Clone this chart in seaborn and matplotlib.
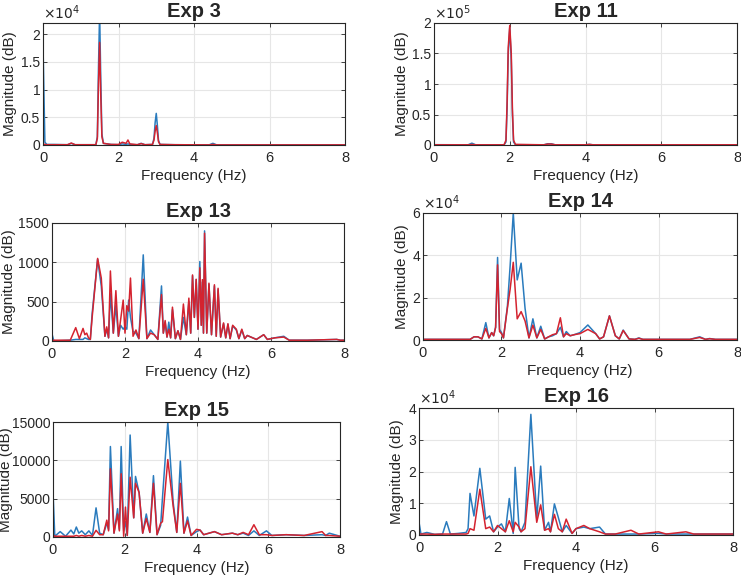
import matplotlib
matplotlib.use("Agg")
import matplotlib.pyplot as plt
import seaborn as sns
from matplotlib.ticker import FuncFormatter

# ---------------- data ----------------
titles = ["Exp 3", "Exp 11", "Exp 13", "Exp 14", "Exp 15", "Exp 16"]

f3 = [0, 0.05, 0.1, 0.3, 0.65, 0.75, 0.85, 1.4, 1.44, 1.47, 1.5, 1.53, 1.56, 1.6, 1.7, 1.8, 2.0, 2.1, 2.2, 2.25,
      2.3, 2.5, 2.6, 2.7, 2.9, 2.94, 2.97, 3.0, 3.03, 3.06, 3.1, 3.5, 4.4, 4.5, 4.6, 8.0]
blue3 = [18000, 500, 100, 100, 50, 300, 50, 50, 1500, 14000, 24000, 12000, 2000, 300, 200, 100, 50, 200, 100, 200,
         100, 50, 300, 50, 100, 1200, 4000, 5700, 3500, 800, 100, 50, 20, 300, 20, 20]
red3 = [200, 100, 50, 50, 50, 350, 50, 50, 1200, 11000, 18500, 9000, 1500, 300, 200, 100, 100, 500, 300, 900,
        200, 50, 250, 50, 100, 900, 2500, 3500, 2200, 600, 100, 50, 20, 100, 20, 20]

f11 = [0, 0.9, 1.0, 1.1, 1.85, 1.9, 1.93, 1.96, 2.0, 2.04, 2.07, 2.1, 2.15, 2.9, 3.0, 3.1, 3.2, 4.0, 4.1, 4.2, 8.0]
blue11 = [500, 300, 3000, 300, 300, 5000, 60000, 150000, 192000, 140000, 50000, 5000, 500, 300, 2000, 2000, 300,
          300, 1000, 300, 300]
red11 = [300, 300, 800, 300, 300, 8000, 70000, 160000, 196000, 150000, 60000, 8000, 1000, 300, 1500, 1500, 300,
         300, 1000, 300, 300]

f13 = [0, 0.05, 0.5, 0.65, 0.75, 0.85, 0.9, 0.95, 1.0, 1.05, 1.1, 1.25, 1.35, 1.45, 1.5, 1.55, 1.6, 1.68, 1.75,
       1.82, 1.88, 1.95, 2.0, 2.05, 2.1, 2.15, 2.22, 2.3, 2.38, 2.5, 2.6, 2.7, 2.8, 2.9, 3.0, 3.05, 3.1, 3.15,
       3.2, 3.25, 3.3, 3.38, 3.45, 3.52, 3.6, 3.68, 3.75, 3.8, 3.85, 3.9, 3.95, 4.0, 4.05, 4.09, 4.12, 4.15,
       4.18, 4.24, 4.3, 4.37, 4.45, 4.5, 4.55, 4.62, 4.7, 4.76, 4.82, 4.88, 4.95, 5.05, 5.12, 5.2, 5.28, 5.35,
       5.5, 5.6, 5.8, 5.9, 6.1, 6.35, 6.5, 7.0, 7.8, 7.9, 8.0]
red13 = [10, 10, 10, 170, 30, 160, 80, 100, 40, 20, 300, 1050, 800, 60, 180, 40, 890, 100, 640,
         60, 270, 520, 100, 450, 380, 800, 60, 140, 30, 785, 30, 100, 80, 20, 590, 100, 260, 50,
         150, 40, 430, 30, 130, 20, 470, 80, 545, 100, 840, 300, 785, 150, 930, 200, 780, 100,
         1370, 100, 735, 80, 715, 60, 670, 50, 230, 40, 220, 30, 200, 150, 30, 150, 30, 70,
         40, 20, 80, 20, 40, 50, 10, 10, 20, 10, 10]
blue13 = [90, 0, 10, 20, 20, 20, 40, 30, 20, 20, 350, 1040, 700, 60, 150, 40, 600, 100, 450,
          60, 200, 150, 180, 150, 520, 300, 120, 100, 30, 1095, 30, 140, 80, 20, 700, 100, 240, 50,
          240, 40, 400, 30, 130, 20, 300, 80, 500, 100, 830, 300, 780, 150, 1010, 200, 750, 100,
          1400, 100, 720, 80, 700, 60, 650, 50, 220, 40, 210, 30, 190, 140, 30, 140, 30, 70,
          40, 20, 80, 20, 40, 60, 10, 10, 20, 10, 10]

f14 = [0, 1.2, 1.3, 1.4, 1.5, 1.6, 1.68, 1.75, 1.8, 1.85, 1.9, 1.95, 2.0, 2.05, 2.15, 2.22, 2.3, 2.4, 2.5,
       2.6, 2.7, 2.8, 2.9, 3.0, 3.1, 3.2, 3.3, 3.4, 3.5, 3.58, 3.65, 3.75, 3.85, 4.0, 4.2, 4.4, 4.5, 4.6,
       4.75, 4.9, 5.0, 5.1, 5.25, 5.4, 5.5, 5.6, 6.2, 6.8, 7.05, 7.2, 7.3, 7.45, 8.0]
blue14 = [300, 300, 1500, 1500, 500, 8200, 1000, 3500, 2000, 6000, 39000, 5000, 3500, 1000, 15800, 35000, 60000,
          28400, 36300, 15000, 1000, 10000, 1000, 6500, 500, 1500, 2000, 3000, 6000, 1500, 4000, 2000, 2500,
          3500, 7100, 3000, 500, 1500, 11400, 2000, 500, 4700, 500, 300, 1000, 300, 300, 300, 1500, 300, 700,
          300, 300]
red14 = [300, 300, 1500, 1500, 500, 5500, 1000, 3500, 2000, 6000, 35500, 4000, 3000, 1000, 15000, 24000, 36700,
         10000, 13400, 9000, 1000, 7000, 1000, 5000, 500, 1500, 2500, 3000, 10500, 1500, 3000, 2000, 2500,
         3000, 5000, 3000, 500, 1500, 11400, 2000, 500, 4500, 500, 300, 800, 300, 300, 300, 1200, 300, 600,
         300, 300]

f15 = [0, 0.05, 0.2, 0.35, 0.5, 0.58, 0.65, 0.72, 0.8, 0.9, 1.0, 1.1, 1.2, 1.3, 1.4, 1.5, 1.55, 1.6, 1.7, 1.8,
       1.85, 1.9, 1.97, 2.02, 2.07, 2.15, 2.25, 2.3, 2.4, 2.5, 2.6, 2.7, 2.8, 2.9, 3.0, 3.05, 3.2, 3.35, 3.45,
       3.55, 3.65, 3.75, 3.85, 4.0, 4.1, 4.2, 4.5, 4.7, 5.0, 5.15, 5.3, 5.45, 5.6, 5.75, 5.95, 6.1, 6.5, 7.0,
       7.5, 7.6, 7.7, 8.0]
blue15 = [5900, 100, 700, 100, 900, 400, 1300, 500, 800, 300, 800, 200, 3800, 500, 300, 1800, 1000, 11800, 500,
          3700, 1000, 11800, 800, 2000, 200, 13300, 2500, 7900, 5800, 500, 3000, 600, 8000, 300, 1500, 5000,
          15000, 4500, 600, 9900, 500, 2600, 200, 700, 900, 300, 700, 300, 500, 300, 500, 200, 800, 200, 800,
          200, 300, 200, 300, 200, 500, 100]
red15 = [300, 100, 100, 100, 100, 100, 200, 100, 200, 100, 200, 100, 870, 300, 300, 2200, 800, 8900, 500,
         3000, 800, 8250, 100, 3900, 200, 7800, 2500, 7000, 5800, 500, 2400, 600, 7000, 300, 1800, 2000,
         10100, 4000, 600, 7000, 500, 2100, 200, 1000, 900, 300, 700, 300, 500, 300, 600, 300, 1600, 300, 300,
         200, 300, 200, 700, 200, 200, 100]

f16 = [0, 0.05, 0.2, 0.4, 0.6, 0.7, 0.8, 1.0, 1.2, 1.25, 1.3, 1.4, 1.55, 1.7, 1.8, 1.9, 2.0, 2.1, 2.2, 2.3,
       2.4, 2.45, 2.55, 2.6, 2.7, 2.85, 3.0, 3.1, 3.2, 3.3, 3.35, 3.45, 3.55, 3.65, 3.75, 3.9, 4.0, 4.2, 4.35,
       4.6, 4.75, 5.0, 5.4, 5.6, 6.1, 6.3, 6.8, 7.0, 8.0]
blue16 = [4000, 300, 800, 200, 300, 4200, 300, 500, 800, 2000, 13100, 6000, 21000, 5000, 6000, 1000, 2500,
          3500, 1000, 11500, 500, 21300, 2000, 1000, 4000, 38000, 5000, 21700, 1500, 4000, 1000, 9800, 5500,
          1000, 3000, 500, 2000, 2500, 2000, 2500, 300, 300, 300, 300, 500, 300, 300, 300, 300]
red16 = [300, 300, 300, 200, 300, 300, 300, 300, 300, 500, 2000, 1500, 14400, 2000, 2500, 1000, 3000,
         2000, 1000, 4500, 1000, 4000, 2500, 1000, 2000, 21500, 4000, 9500, 1500, 2000, 1000, 6500, 2000,
         1000, 5000, 500, 2000, 3000, 2000, 1000, 300, 300, 1500, 300, 1000, 300, 1000, 300, 300]

ylims = [22000, 200000, 1500, 60000, 15000, 40000]
yticks_list = [[0, 5000, 10000, 15000, 20000],
               [0, 50000, 100000, 150000, 200000],
               [0, 500, 1000, 1500],
               [0, 20000, 40000, 60000],
               [0, 5000, 10000, 15000],
               [0, 10000, 20000, 30000, 40000]]
exps = [4, 5, 0, 4, 0, 4]

# ---------------- layout ----------------
W, H = 741, 575
rects_px = [(43, 345, 23, 145), (434, 737, 23, 145),
            (52, 344, 223, 341), (423, 737, 213, 340),
            (53, 340, 422, 537), (419, 733, 408, 535)]
ylabel_x_px = [10, 402, 9, 402, 6, 397]

sns.set_style("whitegrid", {"axes.edgecolor": "#262626", "grid.color": "#e6e6e6",
                            "xtick.direction": "in", "ytick.direction": "in",
                            "xtick.bottom": True, "ytick.left": True,
                            "xtick.top": True, "ytick.right": True})
plt.rcParams['font.family'] = ['Liberation Sans', 'DejaVu Sans']

BLUE = "#2a7bbd"
RED = "#d4232f"

fig = plt.figure(figsize=(W / 100, H / 100), dpi=100)
data = [(f3, blue3, red3), (f11, blue11, red11), (f13, blue13, red13),
        (f14, blue14, red14), (f15, blue15, red15), (f16, blue16, red16)]

for i, (l, r, t, b) in enumerate(rects_px):
    ax = fig.add_axes([l / W, 1 - b / H, (r - l) / W, (b - t) / H])
    f, bl, rd = data[i]
    sns.lineplot(x=f, y=bl, ax=ax, color=BLUE, linewidth=1.1)
    sns.lineplot(x=f, y=rd, ax=ax, color=RED, linewidth=1.1)
    ax.set_xlim(0, 8)
    ax.set_ylim(0, ylims[i])
    ax.set_xticks([0, 2, 4, 6, 8])
    ax.set_yticks(yticks_list[i])
    e = exps[i]
    ax.yaxis.set_major_formatter(FuncFormatter(lambda v, p, e=e: f"{v / 10 ** e:g}"))
    if e:
        ax.text(0.0, 1.005, r"$\times10^{%d}$" % e, transform=ax.transAxes,
                ha="left", va="bottom", fontsize=10, color="#262626")
    ax.tick_params(axis="x", labelsize=10.5, length=3, width=0.6, color="#262626", pad=4)
    ax.tick_params(axis="y", labelsize=10, length=3, width=0.6, color="#262626", pad=2)
    ax.set_title(titles[i], fontsize=14.5, fontweight="bold", pad=4)
    ax.set_xlabel("Frequency (Hz)", fontsize=11, labelpad=3)
    ax.set_ylabel("Magnitude (dB)", fontsize=11)
    ax.yaxis.label.set_verticalalignment("center")
    ax.yaxis.set_label_coords((ylabel_x_px[i] - l) / (r - l), 0.5)
    ax.grid(True, color="#e6e6e6", linewidth=0.8)
    for s in ax.spines.values():
        s.set_linewidth(0.8)
        s.set_color("#262626")

fig.savefig("out.png", dpi=100)
